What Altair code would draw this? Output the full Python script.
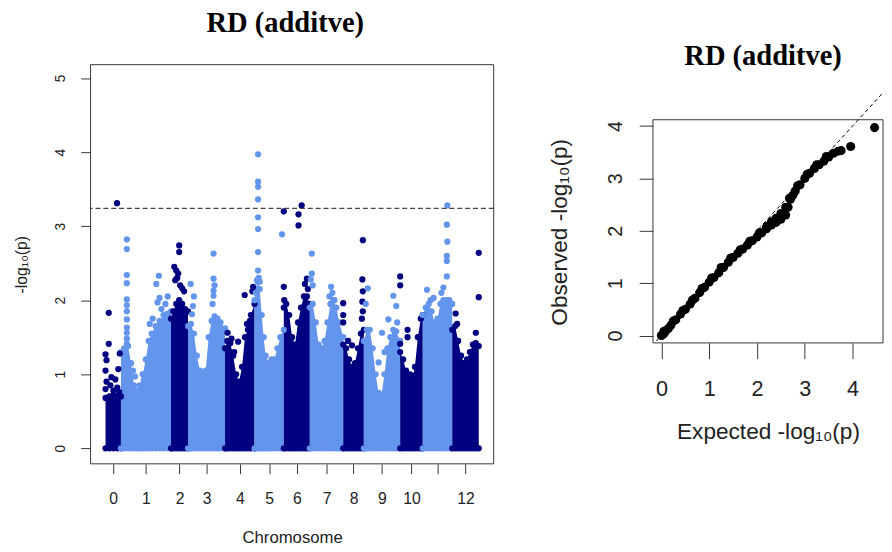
import altair as alt
import numpy as np
import pandas as pd

DARK = "#000080"
LIGHT = "#6495ED"

# ---------------- Manhattan data ----------------
chrom_tick_labels = ["0", "1", "2", "3", "4", "5", "6", "7", "8", "9", "10", "", "12"]
chrom_length = [15.7, 51.0, 17.3, 37.7, 30.0, 29.8, 26.5, 34.0, 21.0, 37.0, 23.0, 30.0, 27.0]

# upper edge of the dense cloud of SNPs, per chromosome (position in chromosome, -log10 p)
env_pos = [
    [0, 4, 8, 12, 15.7],
    [0, 3.3, 7.3, 10.3, 13.3, 16.3, 19.3, 22.3, 25.3, 28.3, 31.3, 35.3, 39.3, 43.3, 47.3, 51.0],
    [0, 2.3, 5.3, 8.3, 11.3, 14.3, 17.3],
    [0, 3, 6, 9, 12, 15, 18, 21, 24, 27, 30, 33, 37.7],
    [0, 2.3, 5.3, 8.3, 11.3, 14.3, 17.3, 20.3, 23.3, 26.3, 30],
    [0, 1.3, 3.3, 5.3, 7.3, 9.3, 11.3, 14.3, 17.3, 20.3, 23.3, 26.3, 29.8],
    [0, 2.5, 5.5, 8.5, 11.5, 14.5, 17.5, 20.5, 23.5, 26.5],
    [0, 3, 6, 9, 12, 15, 18, 21, 24, 27, 30, 34],
    [0, 3, 6, 9, 12, 15, 18, 21],
    [0, 3, 6, 9, 12, 15, 18, 21, 24, 27, 30, 33, 37],
    [0, 3, 6, 9, 12, 15, 18, 21, 23],
    [0, 3, 6, 9, 12, 15, 18, 21, 24, 27, 30],
    [0, 3, 6, 9, 12, 15, 18, 21, 24, 27],
]
env_logp = [
    [0.68, 0.70, 0.72, 0.70, 0.70],
    [1.30, 1.35, 1.38, 1.15, 0.85, 0.78, 0.85, 1.00, 1.20, 1.45, 1.55, 1.65, 1.72, 1.80, 1.82, 1.85],
    [1.75, 1.85, 1.95, 2.00, 1.95, 1.88, 1.85],
    [1.65, 1.68, 1.55, 1.25, 1.05, 1.00, 1.05, 1.50, 1.72, 1.78, 1.75, 1.70, 1.62],
    [1.35, 1.45, 1.42, 1.25, 1.00, 0.90, 1.10, 1.50, 1.60, 1.80, 1.95],
    [2.00, 2.15, 2.25, 2.15, 1.80, 1.50, 1.25, 1.15, 1.20, 1.20, 1.35, 1.50, 1.60],
    [1.90, 1.95, 1.80, 1.50, 1.40, 1.70, 1.90, 2.05, 2.05, 1.95],
    [1.90, 1.95, 1.70, 1.40, 1.35, 1.45, 1.70, 1.95, 2.00, 1.90, 1.70, 1.50],
    [1.40, 1.35, 1.20, 1.10, 1.15, 1.35, 1.55, 1.60],
    [1.45, 1.60, 1.60, 1.35, 1.00, 0.75, 0.72, 1.00, 1.35, 1.50, 1.60, 1.58, 1.45],
    [1.30, 1.20, 1.05, 0.95, 0.90, 1.10, 1.50, 1.75, 1.80],
    [1.80, 1.90, 1.95, 1.85, 1.70, 1.75, 1.95, 2.00, 2.00, 2.00, 1.95],
    [1.60, 1.65, 1.45, 1.25, 1.15, 1.20, 1.30, 1.40, 1.42, 1.38],
]

# individual SNPs standing above the dense cloud
peak_pos = [
    [11.7, 3.3, 3.3, 0, 1, 14.5, 13, 0, 6, 1, 10, 5, 12, 0, 8, 14],
    [6, 6, 6, 6, 6, 6, 6, 6, 6, 6, 6, 6, 12.3, 14.3, 22.3, 23.3, 38.6, 36, 37.3, 39.3, 47.6, 45.3, 41.3, 32.3, 29.3],
    [8.3, 8.3, 3.3, 5.3, 7.3, 4.3, 9.3, 11.3, 13.3, 6.3],
    [26, 26, 26, 26, 27, 25, 2.7, 5, 4, 6],
    [2.6, 6.6, 13.3, 20, 28.6, 27.8, 9.3, 22.3, 25.3],
    [3.6, 3.6, 3.6, 3.6, 3.6, 3.6, 3.6, 3.6, 4.3, 2.3, 5.3, 1.3, 28],
    [0, 15, 15, 18.2, 0, 0.5, 23.5, 21.5, 24.5],
    [2, 2, 1, 3, 21.7, 23, 20, 25],
    [20, 19.5, 20, 19.5, 20, 19, 0, 0, 0, 9, 5],
    [4, 2, 30, 33, 34, 25, 18.5, 15, 21],
    [0, 0, 7.5, 7.5, 0, 10, 13],
    [25, 24.5, 25, 24.5, 24.5, 24.5, 21, 4.3, 11, 8, 19],
    [27, 27, 3.5, 5, 24],
]
peak_logp = [
    [3.31, 1.83, 1.41, 1.27, 1.19, 1.28, 1.07, 1.05, 0.96, 0.90, 0.93, 0.85, 0.82, 0.80, 0.78, 0.76],
    [2.82, 2.69, 2.34, 2.23, 2.01, 1.93, 1.85, 1.74, 1.63, 1.56, 1.48, 1.41, 1.05, 0.97, 1.00, 0.92, 2.33, 2.22, 1.97, 2.03, 2.05, 1.95, 1.88, 1.75, 1.68],
    [2.74, 2.65, 2.45, 2.40, 2.36, 2.27, 2.20, 2.16, 2.12, 2.30],
    [2.63, 2.29, 2.13, 2.06, 2.20, 1.95, 2.22, 1.92, 1.81, 2.05],
    [1.56, 1.48, 1.44, 2.07, 2.18, 2.12, 1.30, 1.68, 1.72],
    [3.97, 3.60, 3.53, 3.36, 3.12, 2.96, 2.65, 2.40, 2.30, 2.27, 2.25, 2.10, 2.89],
    [3.20, 3.16, 3.01, 3.28, 2.18, 2.00, 2.29, 2.22, 2.15],
    [2.63, 2.36, 2.28, 2.20, 2.18, 2.10, 2.05, 2.00],
    [2.81, 2.28, 2.12, 1.98, 1.85, 1.75, 1.96, 1.80, 1.70, 1.39, 1.45],
    [2.16, 1.95, 2.06, 1.92, 1.70, 1.74, 1.56, 1.16, 1.30],
    [2.32, 2.20, 1.60, 1.50, 1.41, 1.00, 0.98],
    [3.28, 3.02, 2.79, 2.60, 2.53, 2.32, 2.17, 2.14, 2.03, 2.00, 2.10],
    [2.64, 2.04, 1.82, 1.68, 1.56],
]

threshold = [3.24]

# ---------------- QQ data ----------------
qq_expected = [0.0, 0.03, 0.06, 0.1, 0.15, 0.2, 0.3, 0.4, 0.5, 0.6, 0.7, 0.8, 0.9, 1.0, 1.1, 1.2, 1.3, 1.4, 1.5,
               1.6, 1.7, 1.8, 1.9, 2.0, 2.1, 2.2, 2.3, 2.4, 2.5, 2.6, 2.65, 2.7, 2.75, 2.8, 2.9, 3.0, 3.1,
               3.2, 3.3, 3.4, 3.5, 3.6, 3.7, 3.76, 3.96, 4.46,
               0.05, 0.25, 0.45, 0.65, 0.85, 1.05, 1.25, 1.45, 1.65, 1.85,
               2.05, 2.2, 2.3, 2.4, 2.5, 2.6, 2.68, 2.85, 3.05, 3.25, 3.45]
qq_observed = [0.0, 0.02, 0.05, 0.1, 0.14, 0.2, 0.3, 0.41, 0.5, 0.6, 0.71, 0.82, 0.92, 1.02, 1.11, 1.2, 1.3, 1.4, 1.49,
               1.57, 1.65, 1.73, 1.81, 1.88, 1.96, 2.04, 2.11, 2.16, 2.22, 2.3, 2.45, 2.6, 2.68, 2.76, 2.88, 3.0, 3.1,
               3.19, 3.26, 3.33, 3.41, 3.48, 3.52, 3.53, 3.61, 3.97,
               0.08, 0.28, 0.48, 0.68, 0.9, 1.1, 1.3, 1.48, 1.64, 1.8,
               1.96, 2.08, 2.17, 2.24, 2.33, 2.45, 2.62, 2.86, 3.08, 3.26, 3.42]

# ---------------- build tables ----------------
offsets = np.concatenate([[0.0], np.cumsum(chrom_length)[:-1]])
env_rows, peak_rows = [], []
for i in range(len(chrom_length)):
    shade = "dark" if i % 2 == 0 else "light"
    for p, v in zip(env_pos[i], env_logp[i]):
        env_rows.append({"chrom": i, "bp": offsets[i] + p, "logp": v, "shade": shade})
    for p, v in zip(peak_pos[i], peak_logp[i]):
        peak_rows.append({"chrom": i, "bp": offsets[i] + p, "logp": v, "shade": shade})
env_df = pd.DataFrame(env_rows)
peak_df = pd.DataFrame(peak_rows)
thr_df = pd.DataFrame({"thr": threshold})

tick_vals = [float(o + l / 2) for o, l in zip(offsets, chrom_length)]
ends = [float(o + l) for o, l in zip(offsets, chrom_length)]
label_expr = " : ".join(f"datum.value < {e:.2f} ? '{lab}'" for e, lab in zip(ends, chrom_tick_labels)) + " : ''"

SANS = "Liberation Sans"
SERIF = "Liberation Serif"
BOX = "#333"

total = float(sum(chrom_length))
pad = total * 0.04
x1_dom = [-pad, total + pad]
y1_dom = [-0.21, 5.18]
xs1 = alt.Scale(domain=x1_dom, nice=False, zero=False)
ys1 = alt.Scale(domain=y1_dom, nice=False, zero=False)
col = alt.Color("shade:N", scale=alt.Scale(domain=["dark", "light"], range=[DARK, LIGHT]), legend=None)

xax1 = alt.Axis(values=tick_vals, labelExpr=label_expr, title="Chromosome", grid=False, domain=False,
                tickSize=10, tickColor="#333", labelFont=SANS, labelFontSize=16, labelColor="#222",
                labelPadding=17, labelFlush=False, labelOverlap=False, labelSeparation=0,
                titleFont=SANS, titleFontSize=17,
                titleFontWeight="normal", titleColor="#222", titlePadding=24)
yax1 = alt.Axis(values=[0, 1, 2, 3, 4, 5], format="d", title="-log₁₀(p)", grid=False, domain=False,
                tickSize=10, tickColor="#333", labelFont=SANS, labelFontSize=14, labelColor="#222",
                labelAngle=270, labelAlign="center", labelBaseline="alphabetic", labelPadding=17,
                labelOverlap=False, titleFont=SANS, titleFontSize=16, titleFontWeight="normal",
                titleColor="#222", titlePadding=24)

X1 = alt.X("bp:Q", scale=xs1, axis=xax1)
Y1 = alt.Y("logp:Q", scale=ys1, axis=yax1, stack=None)

area = alt.Chart(env_df).mark_area(opacity=1, clip=True).encode(x=X1, y=Y1, y2=alt.datum(0), color=col,
                                                                 detail="chrom:N")
env_top = alt.Chart(env_df).mark_circle(size=40, opacity=1).encode(x=X1, y=Y1, color=col)
env_bot = alt.Chart(env_df).mark_circle(size=40, opacity=1).encode(x=X1, y=alt.datum(0), color=col)
peaks = alt.Chart(peak_df).mark_circle(size=40, opacity=1).encode(x=X1, y=Y1, color=col)
thr = alt.Chart(thr_df).mark_rule(color="#444", strokeDash=[5, 3], strokeWidth=1.2).encode(
    y=alt.Y("thr:Q", scale=ys1, axis=yax1))
box1_df = pd.DataFrame({"x0": [x1_dom[0]], "x1": [x1_dom[1]], "y0": [y1_dom[0]], "y1": [y1_dom[1]]})
box1 = alt.Chart(box1_df).mark_rect(fillOpacity=0, stroke=BOX, strokeWidth=1).encode(
    x=alt.X("x0:Q", scale=xs1, axis=xax1), x2="x1:Q", y=alt.Y("y0:Q", scale=ys1, axis=yax1), y2="y1:Q")

left = alt.layer(area, env_bot, env_top, peaks, thr, box1).properties(
    width=410, height=406,
    title=alt.TitleParams("RD (additve)", font=SERIF, fontSize=29, fontWeight="bold", color="black",
                          anchor="middle", dx=-7, offset=26.5))

# ---------------- QQ plot ----------------
H2 = 283
qq_df = pd.DataFrame({"e": qq_expected, "o": qq_observed})
diag_df = pd.DataFrame({"e": [-0.2, 4.7], "o": [-0.2, 4.7]})
x2_dom = [-0.177, 4.637]
y2_dom = [-0.14, 4.12]
xs2 = alt.Scale(domain=x2_dom, nice=False, zero=False)
ys2 = alt.Scale(domain=y2_dom, nice=False, zero=False, range=[H2, 56])
xax2 = alt.Axis(values=[0, 1, 2, 3, 4], format="d", title="Expected -log₁₀(p)", grid=False, domain=False,
                tickSize=16, tickColor="#333", labelFont=SANS, labelFontSize=22, labelColor="#222",
                labelPadding=21, labelFlush=False, titleFont=SANS, titleFontSize=23,
                titleFontWeight="normal", titleColor="#222", titlePadding=21)
yax2 = alt.Axis(values=[0, 1, 2, 3, 4], format="d", title="Observed -log₁₀(p)", grid=False, domain=False,
                tickSize=14, tickColor="#333", labelFont=SANS, labelFontSize=20, labelColor="#222",
                labelAngle=270, labelAlign="center", labelBaseline="alphabetic", labelPadding=18,
                titleFont=SANS, titleFontSize=23, titleFontWeight="normal", titleColor="#222",
                titlePadding=35, titleY=170)
X2 = alt.X("e:Q", scale=xs2, axis=xax2)
Y2 = alt.Y("o:Q", scale=ys2, axis=yax2)
diag = alt.Chart(diag_df).mark_line(color="black", strokeDash=[4, 3], strokeWidth=1, clip=True).encode(x=X2, y=Y2)
qpts = alt.Chart(qq_df).mark_circle(size=85, color="black", opacity=1).encode(x=X2, y=Y2)
box2_df = pd.DataFrame({"x0": [x2_dom[0]], "x1": [x2_dom[1]], "y0": [y2_dom[0]], "y1": [y2_dom[1]]})
box2 = alt.Chart(box2_df).mark_rect(fillOpacity=0, stroke=BOX, strokeWidth=1).encode(
    x=alt.X("x0:Q", scale=xs2, axis=xax2), x2="x1:Q", y=alt.Y("y0:Q", scale=ys2, axis=yax2), y2="y1:Q")

right = alt.layer(diag, qpts, box2).properties(
    width=234, height=H2,
    title=alt.TitleParams("RD (additve)", font=SERIF, fontSize=29, fontWeight="bold", color="black",
                          anchor="middle", dx=-5, offset=-6))

chart = alt.hconcat(left, right, spacing=53).properties(
    padding={"top": -4, "left": 5, "right": 0, "bottom": 0}, background="white"
).configure_view(stroke="transparent")

chart.save("out.html", embed_options={"renderer": "svg", "actions": False})
